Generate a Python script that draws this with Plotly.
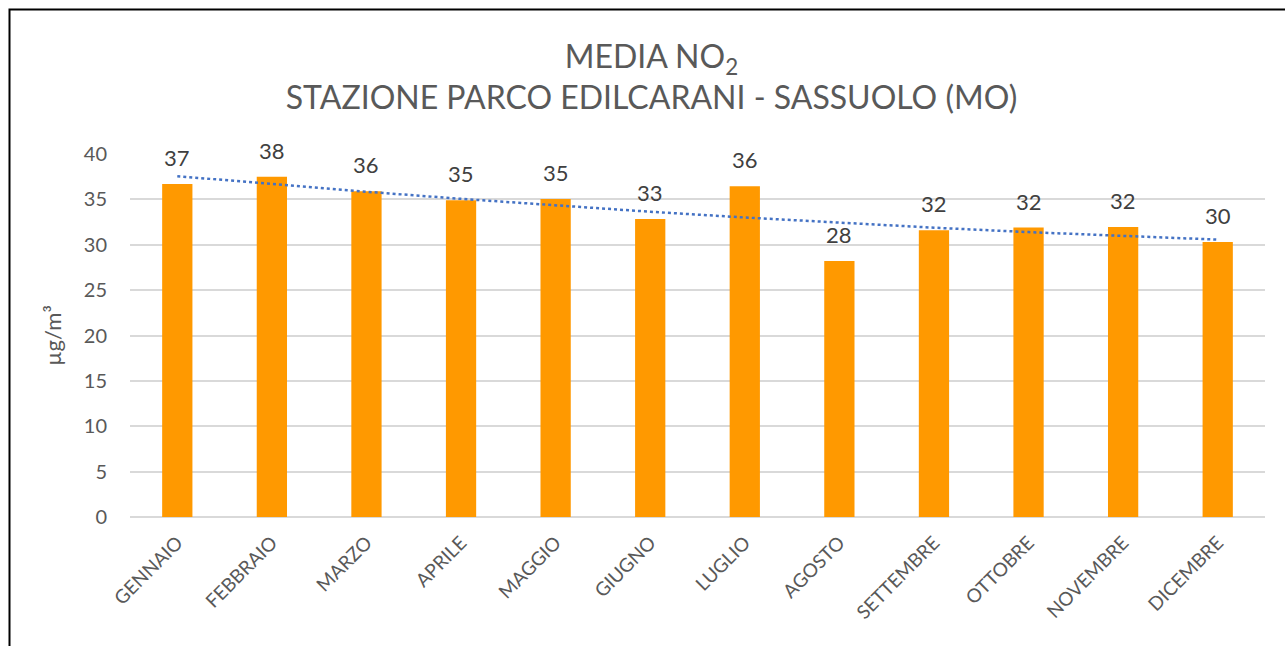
import numpy as np
import plotly.graph_objects as go

# Monthly mean NO2 (µg/m³)
months = ["GENNAIO", "FEBBRAIO", "MARZO", "APRILE", "MAGGIO", "GIUGNO",
          "LUGLIO", "AGOSTO", "SETTEMBRE", "OTTOBRE", "NOVEMBRE", "DICEMBRE"]
no2_mean = [36.7, 37.5, 35.9, 34.9, 35.05, 32.85, 36.45, 28.2, 31.6, 31.9, 31.95, 30.3]
y_ticks = [0, 5, 10, 15, 20, 25, 30, 35, 40]

# Second-order polynomial trend through the monthly means
t = np.arange(1, len(no2_mean) + 1)
coef = np.polyfit(t, no2_mean, 2)
trend = np.polyval(coef, t)

FONT = "Lato"
GREY = "#595959"

fig = go.Figure()
fig.add_trace(go.Bar(
    x=months, y=no2_mean,
    marker=dict(color="#ff9900", line=dict(width=0)),
    showlegend=False,
))
fig.add_trace(go.Scatter(
    x=months, y=trend, mode="lines",
    line=dict(color="#4472c4", width=2.5, dash="dot"),
    showlegend=False, hoverinfo="skip",
))

# Value labels above each bar, rounded to whole numbers
value_labels = [
    dict(x=m, y=v, text=f"{v:.0f}", showarrow=False, yanchor="bottom", yshift=11,
         font=dict(family=FONT, size=22, color="#404040"))
    for m, v in zip(months, no2_mean)
]

fig.update_layout(
    width=1285, height=646,
    margin=dict(l=130, r=20, t=154, b=129),
    paper_bgcolor="white", plot_bgcolor="white",
    bargap=0.68,
    font=dict(family=FONT, color=GREY),
    title=dict(
        text="MEDIA NO<sub>2</sub><br>STAZIONE PARCO EDILCARANI - SASSUOLO (MO)",
        x=0.507, xref="container", xanchor="center",
        y=0.895, yanchor="top",
        font=dict(family=FONT, size=32, color=GREY),
    ),
    xaxis=dict(
        tickangle=-45, tickfont=dict(family=FONT, size=19, color=GREY),
        showgrid=False, showline=False, ticks="", ticklabelstandoff=10,
    ),
    yaxis=dict(
        range=[0, 40], tickvals=y_ticks,
        tickfont=dict(family=FONT, size=20, color=GREY),
        gridcolor="#d9d9d9", gridwidth=1.5,
        zeroline=True, zerolinecolor="#d9d9d9", zerolinewidth=1.5,
        showline=False, ticks="", ticklabelstandoff=22,
        title=dict(text="µg/m³", font=dict(family=FONT, size=22, color=GREY), standoff=16),
    ),
    annotations=value_labels,
    shapes=[dict(
        type="rect", xref="paper", yref="paper",
        x0=(9.5 - 130) / 1135, x1=(1300 - 130) / 1135,
        y0=(517 - 660) / 363, y1=(517 - 9.5) / 363,
        line=dict(color="black", width=2), fillcolor="rgba(0,0,0,0)", layer="above",
    )],
)

fig.write_html("out.html")
